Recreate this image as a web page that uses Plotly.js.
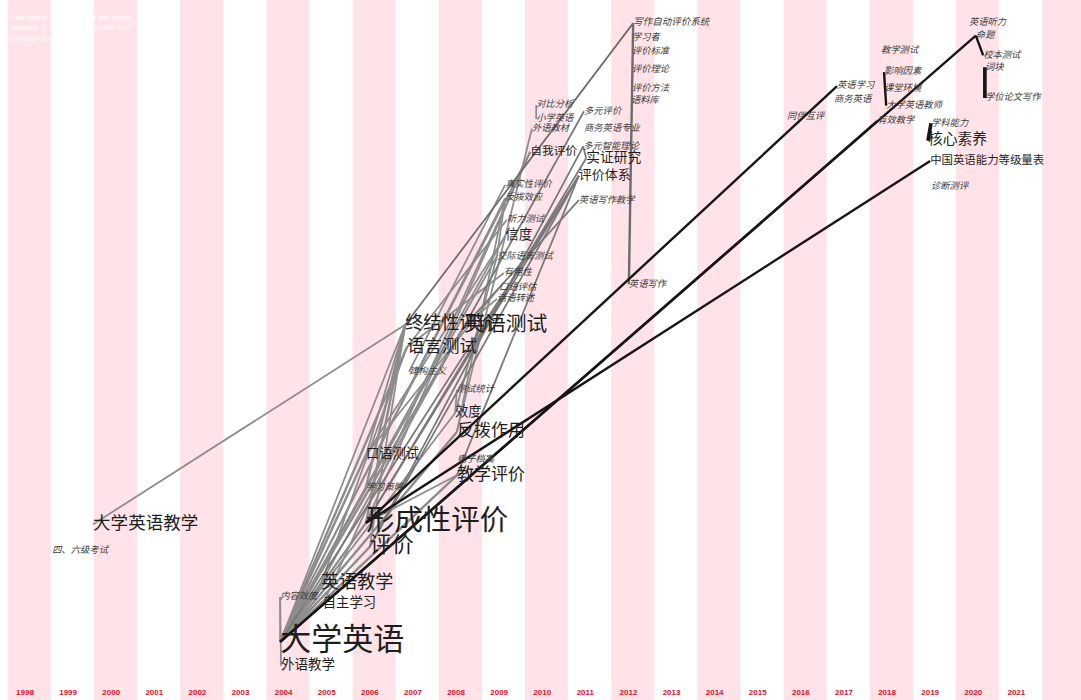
<!DOCTYPE html>
<html>
<head>
<meta charset="utf-8">
<script src="https://cdn.plot.ly/plotly-3.0.1.min.js"></script>
<style>html,body{margin:0;padding:0;background:#fff}#chart{width:1081px;height:700px}</style>
</head>
<body>
<div id="chart"></div>
<script>
// ---------- data ----------
const years = [1998,1999,2000,2001,2002,2003,2004,2005,2006,2007,2008,2009,2010,2011,2012,2013,2014,2015,2016,2017,2018,2019,2020,2021];
const yearLabels = years.map(String);

const nodeLabels = ["四、六级考试","大学英语教学","大学英语","外语教学","内容效度","英语教学","自主学习","形成性评价","评价","学习策略","口语测试",
  "终结性评价","语言测试","建构主义","英语测试","测试统计","效度","反拨作用","电子档案","教学评价",
  "真实性评价","反拨效应","听力测试","信度","交际语言测试","有用性","口语评估","话语转述",
  "对比分析","小学英语","外语教材","自我评价","多元评价","商务英语专业","多元智能理论","实证研究","评价体系","英语写作教学",
  "写作自动评价系统","学习者","评价标准","评价理论","评价方法","语料库","英语写作",
  "同伴互评","英语学习","商务英语","教学测试","影响因素","课堂环境","大学英语教师","有效教学",
  "学科能力","核心素养","中国英语能力等级量表","诊断测评","英语听力","命题","校本测试","词块","学位论文写作"];
const nodeYear = [1998.63,1999.58,2003.92,2003.94,2003.92,2004.87,2004.91,2005.91,2006.0,2005.91,2005.91,
  2006.82,2006.86,2006.91,2008.19,2008.02,2007.98,2008.02,2008.02,2008.02,
  2009.14,2009.14,2009.18,2009.14,2008.95,2009.11,2009.0,2008.95,
  2009.86,2009.86,2009.76,2009.72,2010.97,2010.97,2010.95,2011.02,2010.85,2010.85,
  2012.11,2012.08,2012.08,2012.08,2012.08,2012.06,2012.01,
  2015.68,2016.84,2016.77,2017.86,2017.93,2017.93,2017.98,2017.77,
  2019.02,2018.95,2019.0,2019.02,2019.9,2020.06,2020.23,2020.27,2020.27];
const nodePos = [21.4,25.1,8.3,4.9,14.7,16.7,13.7,25.3,21.9,30.4,35.0,
  53.6,50.4,46.9,53.4,44.3,41.0,38.3,34.4,32.1,
  73.6,71.7,68.6,66.3,63.4,61.0,58.9,57.3,
  85.0,83.0,81.6,78.3,84.1,81.6,79.1,77.4,74.9,71.4,
  96.7,94.6,92.6,90.0,87.3,85.6,59.4,
  83.4,87.7,85.7,92.7,89.7,87.3,84.9,82.7,
  82.4,79.9,77.0,73.4,96.7,94.9,92.1,90.4,86.0];
const nodeFreq = [1,21,109,8,1,23,7.5,87,42,1,7.5,
  23,21,1,36,1,7,19,1,19,
  1,1,1,8,1,1,1,1,
  1,1,1,4.3,1,1,1,8.7,6.8,1,
  1.2,1,1,1,1,1,1,
  1,1,1,1,1,1,1,1,
  1,11.5,3.7,1,1,1,1,1,1];

const edgeFrom = ["大学英语教学","内容效度","大学英语","大学英语","大学英语","大学英语","大学英语","大学英语","大学英语","大学英语",
  "大学英语","大学英语","大学英语","大学英语","大学英语","大学英语","大学英语","大学英语","大学英语","大学英语",
  "英语教学","英语教学","自主学习","评价","评价","评价","形成性评价","形成性评价","形成性评价","形成性评价","形成性评价",
  "学习策略","口语测试","口语测试","口语测试","语言测试","语言测试","建构主义","英语测试","英语测试","英语测试",
  "效度","效度","反拨作用","反拨作用","反拨效应","教学评价","实证研究","对比分析","终结性评价","写作自动评价系统",
  "形成性评价","大学英语","大学英语","形成性评价","影响因素","学科能力","命题","词块"];
const edgeTo = ["终结性评价","外语教学","内容效度","英语教学","自主学习","评价","形成性评价","学习策略","口语测试","终结性评价",
  "语言测试","英语测试","效度","反拨作用","教学评价","信度","交际语言测试","反拨效应","自我评价","评价体系",
  "语言测试","英语测试","自我评价","终结性评价","评价体系","多元智能理论","终结性评价","自我评价","教学评价","评价体系","实证研究",
  "终结性评价","终结性评价","口语评估","信度","有用性","听力测试","真实性评价","多元评价","英语写作教学","话语转述",
  "测试统计","交际语言测试","反拨效应","外语教材","交际语言测试","评价体系","多元智能理论","小学英语","写作自动评价系统","英语写作",
  "英语学习","命题","有效教学","中国英语能力等级量表","大学英语教师","核心素养","校本测试","学位论文写作"];
const edgeWeight = [1,1,1,2,1,2,2,1,2,1,
  2,2,1,2,2,1,1,1,1,1,
  1,1,1,1,1,1,2,1,1,1,1,
  2,1,1,1,1,1,1,1,1,1,
  1,1,1,1,1,1,1,1,1,2,
  2,2,2,2,2,4,2,4];

// ---------- build ----------
const idx = {};
nodeLabels.forEach((n,i)=>{idx[n]=i;});

function edgeColor(yr){
  if (yr < 2003) return 'rgb(168,168,168)';
  if (yr < 2010) return 'rgb(140,140,140)';
  if (yr < 2012) return 'rgb(120,120,120)';
  if (yr < 2013) return 'rgb(108,108,108)';
  return 'rgb(22,22,22)';
}

const traces = [];
const order = edgeFrom.map((_,i)=>i).sort((a,b)=>{
  const ya = Math.max(nodeYear[idx[edgeFrom[a]]], nodeYear[idx[edgeTo[a]]]);
  const yb = Math.max(nodeYear[idx[edgeFrom[b]]], nodeYear[idx[edgeTo[b]]]);
  return ya - yb;
});
order.forEach(i=>{
  const a = idx[edgeFrom[i]], b = idx[edgeTo[i]];
  const yr = Math.max(nodeYear[a], nodeYear[b]);
  traces.push({
    type:'scatter', mode:'lines', hoverinfo:'skip', showlegend:false,
    x:[nodeYear[a], nodeYear[b]], y:[nodePos[a], nodePos[b]],
    line:{color:edgeColor(yr), width:1.1 + 0.65*edgeWeight[i]}
  });
});

function fontSize(f){ return 7 + 2.3*Math.sqrt(f); }
const small = {x:[],y:[],t:[],s:[]}, big = {x:[],y:[],t:[],s:[]};
nodeLabels.forEach((n,i)=>{
  const s = fontSize(nodeFreq[i]);
  const g = s < 10.5 ? small : big;
  g.x.push(nodeYear[i]); g.y.push(nodePos[i]); g.t.push(n); g.s.push(s);
});
traces.push({
  type:'scatter', mode:'text', hoverinfo:'skip', showlegend:false,
  x:small.x, y:small.y, text:small.t, textposition:'middle right',
  textfont:{family:'Noto Sans CJK SC', size:small.s, color:'#3a3a3a', style:'italic'}
});
traces.push({
  type:'scatter', mode:'text', hoverinfo:'skip', showlegend:false,
  x:big.x, y:big.y, text:big.t, textposition:'middle right',
  textfont:{family:'Noto Sans CJK SC', size:big.s, color:'#1e1e1e'}
});

// background stripes for even years (including the trailing column)
const stripeYears = years.concat([2022]).filter(y=>y%2===0);
const shapes = stripeYears.map(y=>({
  type:'rect', layer:'below', xref:'x', yref:'paper',
  x0:y-0.4, x1:y+0.6, y0:0, y1:1,
  fillcolor:'#ffe3e8', line:{width:0}
}));

const layout = {
  width:1081, height:700,
  margin:{l:0,r:0,t:0,b:0},
  paper_bgcolor:'#ffffff', plot_bgcolor:'#ffffff',
  showlegend:false,
  xaxis:{range:[1997.42,2022.5], showgrid:false, zeroline:false, showline:false,
    tickmode:'array', tickvals:years, ticktext:yearLabels,
    ticklabelposition:'inside', ticks:'',
    tickfont:{family:'Liberation Sans Narrow, Liberation Sans, Arial', size:8, color:'#e0101e', weight:'bold'},
    fixedrange:true},
  yaxis:{range:[0,100], visible:false, fixedrange:true},
  shapes:shapes,
  annotations:[
    {xref:'paper', yref:'paper', x:0.007, y:0.985, xanchor:'left', yanchor:'top', showarrow:false, align:'left',
     text:'CiteSpace, v. 5.7.R2 (64-bit) Basic<br>January 2, 2021 10:12:38 AM CST<br>Density=0.0191',
     font:{family:'Liberation Sans, Arial', size:8, color:'#ffffff'}}
  ]
};

Plotly.newPlot('chart', traces, layout, {displayModeBar:false, staticPlot:true});
</script>
</body>
</html>
